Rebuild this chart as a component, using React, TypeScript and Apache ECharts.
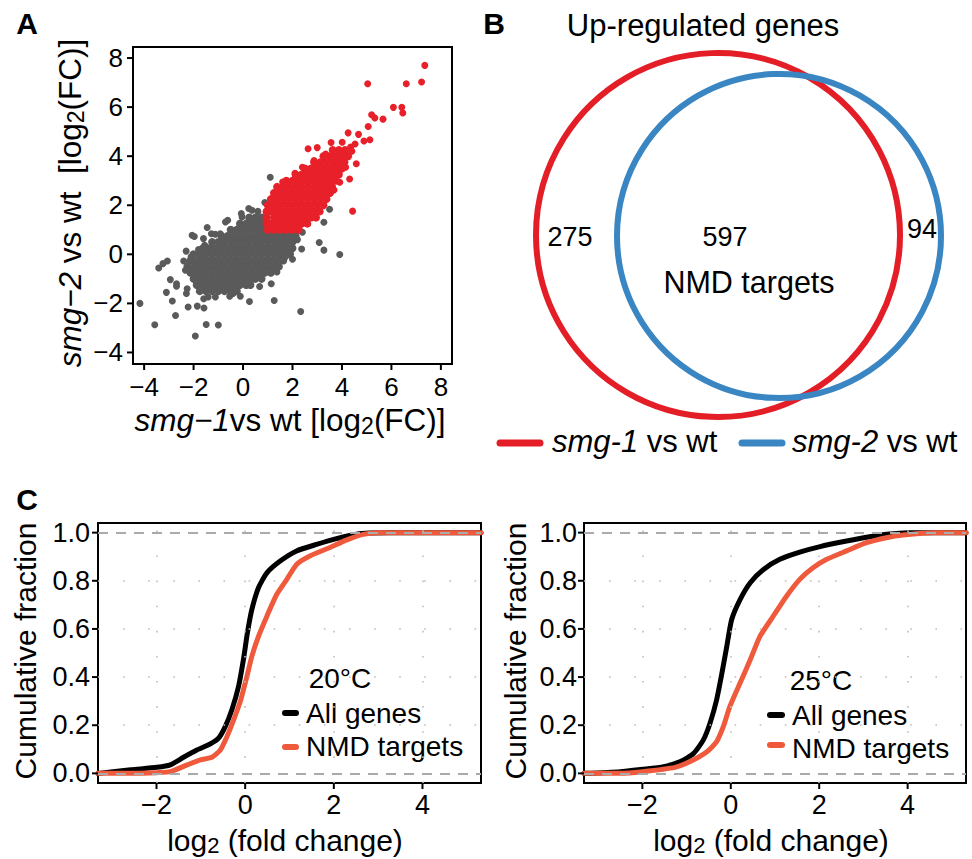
import React, { useEffect, useRef } from 'react';
import * as echarts from 'echarts';

const FONT = '"Liberation Sans", Arial, Helvetica, sans-serif';

// ---------- Panel A: scatter ----------
const scatterXTicks = [-4, -2, 0, 2, 4, 6, 8];
const scatterYTicks = [-4, -2, 0, 2, 4, 6, 8];

// dense grey cloud, rows of [y, x values]
const grayCoreRows: [number, number[]][] = [
  [1.5, [0.25, 0.5, 0.75]],
  [1.25, [-0.125, 0.125, 0.375, 0.625, 0.875]],
  [1.0, [-0.5, -0.25, 0, 0.25, 0.5, 0.75, 1.0, 1.25, 1.5, 1.75, 2.0, 2.25]],
  [0.75, [-0.875, -0.625, -0.375, -0.125, 0.125, 0.375, 0.625, 0.875, 1.125, 1.375, 1.625, 1.875, 2.125]],
  [0.5, [-1.25, -1, -0.75, -0.5, -0.25, 0, 0.25, 0.5, 0.75, 1, 1.25, 1.5, 1.75, 2.0]],
  [0.25, [-1.625, -1.375, -1.125, -0.875, -0.625, -0.375, -0.125, 0.125, 0.375, 0.625, 0.875, 1.125, 1.375, 1.625, 1.875, 2.0]],
  [0, [-2.0, -1.75, -1.5, -1.25, -1, -0.75, -0.5, -0.25, 0, 0.25, 0.5, 0.75, 1, 1.25, 1.5, 1.75, 1.9]],
  [-0.25, [-2.125, -1.875, -1.625, -1.375, -1.125, -0.875, -0.625, -0.375, -0.125, 0.125, 0.375, 0.625, 0.875, 1.125, 1.375, 1.625]],
  [-0.5, [-2.25, -2, -1.75, -1.5, -1.25, -1, -0.75, -0.5, -0.25, 0, 0.25, 0.5, 0.75, 1, 1.25, 1.45]],
  [-0.75, [-2.125, -1.875, -1.625, -1.375, -1.125, -0.875, -0.625, -0.375, -0.125, 0.125, 0.375, 0.625, 0.875, 1.125]],
  [-1.0, [-2.0, -1.75, -1.5, -1.25, -1, -0.75, -0.5, -0.25, 0, 0.25, 0.5, 0.75]],
  [-1.25, [-1.875, -1.625, -1.375, -1.125, -0.875, -0.625, -0.375, -0.125, 0.125, 0.3]],
  [-1.5, [-1.75, -1.5, -1.25, -1, -0.75, -0.5, -0.25]],
];

const grayOutliers: [number, number][] = [
  [-4.17, -2.0], [-3.57, -2.87], [-2.73, -2.49], [-1.93, -3.33], [-1.49, -2.86], [-1.0, -2.88],
  [-2.22, -2.15], [-1.85, -2.11], [-1.58, -2.19], [-2.86, -1.9], [-3.1, -1.55], [-3.41, -0.56],
  [-3.24, -0.38], [-3.06, -0.27], [-2.94, -1.03], [-2.69, -1.2], [-2.69, -1.3], [-2.4, -0.27],
  [-2.3, 0.13], [-2.33, -0.65], [-2.26, -1.4], [-2.29, -1.6], [-2.06, 0.78], [-1.97, 0.73],
  [-1.6, 0.64], [-1.55, 0.37], [-1.45, 1.09], [-1.28, 0.84], [-1.12, 0.82], [-0.92, 0.84],
  [-0.71, 1.32], [-0.62, 1.39], [-0.07, 1.66], [-0.04, 1.52], [0.23, 1.87], [0.36, 1.8],
  [0.88, 2.11], [-1.74, -1.47], [-1.59, -1.81], [-1.41, -1.74], [-1.12, -1.74], [-0.54, -1.71],
  [-0.11, -1.71], [0.26, -1.92], [0.67, -1.31], [0.3, -1.2], [1.26, -1.88], [1.14, -1.2],
  [1.37, -0.72], [1.44, -0.31], [1.71, -0.11], [2.33, -2.33], [3.91, -0.01], [3.27, 0.17],
  [3.08, 0.48], [2.37, 0.22], [3.27, 1.31], [3.5, 1.84], [1.1, 3.14], [2.2, 0.6], [2.4, 0.9],
  [2.0, -0.2], [-1.8, 0.2], [-2.1, -0.1], [0.6, 1.75], [-0.4, -1.6],
];

const redCoreRows: [number, number[]][] = [
  [1.0, [1.0, 1.25, 1.5, 1.75, 2.0, 2.25]],
  [1.25, [0.95, 1.125, 1.375, 1.625, 1.875, 2.125, 2.375, 2.6]],
  [1.5, [0.95, 1.25, 1.5, 1.75, 2.0, 2.25, 2.5, 2.75, 2.95]],
  [1.75, [0.95, 1.125, 1.375, 1.625, 1.875, 2.125, 2.375, 2.625, 2.875, 3.1]],
  [2.0, [1.0, 1.25, 1.5, 1.75, 2.0, 2.25, 2.5, 2.75, 3.0, 3.25]],
  [2.25, [1.125, 1.375, 1.625, 1.875, 2.125, 2.375, 2.625, 2.875, 3.125, 3.375]],
  [2.5, [1.25, 1.5, 1.75, 2.0, 2.25, 2.5, 2.75, 3.0, 3.25, 3.5]],
  [2.75, [1.375, 1.625, 1.875, 2.125, 2.375, 2.625, 2.875, 3.125, 3.375, 3.6]],
  [3.0, [1.75, 2.0, 2.25, 2.5, 2.75, 3.0, 3.25, 3.5, 3.75]],
  [3.25, [2.125, 2.375, 2.625, 2.875, 3.125, 3.375, 3.625, 3.875]],
  [3.5, [2.5, 2.75, 3.0, 3.25, 3.5, 3.75, 4.0]],
  [3.75, [2.875, 3.125, 3.375, 3.625, 3.875, 4.1]],
  [4.0, [3.25, 3.5, 3.75, 4.0, 4.25]],
  [4.25, [3.625, 3.875, 4.125]],
];

const redOutliers: [number, number][] = [
  [7.35, 7.7], [7.22, 7.02], [6.6, 6.95], [5.04, 6.95], [6.08, 5.99], [6.42, 5.99], [6.46, 5.76],
  [5.2, 5.69], [5.33, 5.56], [5.66, 5.51], [5.06, 5.21], [4.25, 4.95], [4.67, 4.89], [4.89, 4.62],
  [5.13, 4.67], [4.53, 4.5], [3.56, 4.56], [2.63, 4.3], [4.01, 4.57], [4.35, 4.37], [4.58, 3.69],
  [4.31, 3.07], [4.43, 1.76], [3.91, 2.94], [3.68, 2.62], [3.54, 2.5], [2.87, 3.82], [2.4, 3.55],
  [1.66, 2.8], [3.88, 4.23], [4.21, 4.03], [4.15, 3.55], [3.75, 3.62], [3.34, 4.09], [1.6, 2.95],
  [2.1, 3.3], [3.0, 4.35], [4.4, 4.2],
];

// ---------- Panel B: Venn ----------
const vennSets = ['smg-1 vs wt', 'smg-2 vs wt'];
const vennColors = ['#e31e26', '#3a86c3'];
// [centre x, centre y, radius] in Venn layout units
const vennCircles: [number, number, number][] = [
  [238, 205, 182],
  [299, 204, 162],
];
const vennCounts = { smg1Only: 275, both: 597, smg2Only: 94 };

// ---------- Panel C: cumulative fractions ----------
const cdfXTicks = [-2, 0, 2, 4];
const cdfYTicks = [0, 0.2, 0.4, 0.6, 0.8, 1.0];
const allGenes20: [number, number][] = [
  [-3.32, 0.0], [-2.58, 0.015], [-1.99, 0.025], [-1.69, 0.035], [-1.39, 0.067], [-1.09, 0.097],
  [-0.79, 0.122], [-0.6, 0.146], [-0.45, 0.194], [-0.3, 0.264], [-0.15, 0.361], [-0.04, 0.472],
  [0.05, 0.583], [0.15, 0.68], [0.3, 0.771], [0.49, 0.833], [0.79, 0.882], [1.16, 0.924],
  [1.61, 0.951], [2.06, 0.975], [2.51, 0.993], [2.81, 0.998], [3.3, 1.0], [5.32, 1.0],
];
const nmd20: [number, number][] = [
  [-3.32, 0.0], [-2.58, 0.0], [-1.99, 0.003], [-1.69, 0.007], [-1.31, 0.035], [-1.01, 0.056],
  [-0.75, 0.067], [-0.56, 0.097], [-0.41, 0.153], [-0.26, 0.222], [-0.11, 0.299], [0.04, 0.403],
  [0.15, 0.486], [0.3, 0.569], [0.49, 0.653], [0.71, 0.743], [0.94, 0.806], [1.16, 0.868],
  [1.46, 0.903], [1.91, 0.938], [2.28, 0.969], [2.66, 0.993], [3.0, 1.0], [5.32, 1.0],
];
const allGenes25: [number, number][] = [
  [-3.32, 0.0], [-2.5, 0.007], [-2.0, 0.017], [-1.52, 0.028], [-1.14, 0.049], [-0.84, 0.083],
  [-0.62, 0.139], [-0.47, 0.208], [-0.32, 0.306], [-0.2, 0.417], [-0.09, 0.528], [0.02, 0.639],
  [0.21, 0.722], [0.44, 0.792], [0.74, 0.847], [1.11, 0.889], [1.56, 0.919], [2.02, 0.942],
  [2.62, 0.965], [3.14, 0.983], [3.52, 0.993], [4.0, 1.0], [5.32, 1.0],
];
const nmd25: [number, number][] = [
  [-3.32, 0.0], [-2.5, 0.0], [-2.0, 0.007], [-1.26, 0.025], [-0.92, 0.049], [-0.54, 0.09],
  [-0.32, 0.132], [-0.17, 0.194], [-0.02, 0.278], [0.21, 0.375], [0.44, 0.472], [0.66, 0.569],
  [0.96, 0.653], [1.26, 0.736], [1.56, 0.806], [1.86, 0.854], [2.17, 0.889], [2.62, 0.924],
  [3.07, 0.958], [3.52, 0.979], [3.9, 0.99], [4.6, 1.0], [5.32, 1.0],
];

const CDF_RED = '#ef5a3d';
const minus = (v: number) => String(v).replace('-', '\u2212');

const A_X = [-4.45, 8.45];
const A_Y = [-4.47, 8.45];
const C_X = [-3.32, 5.32];
const C_Y = [-0.04, 1.04];

function rowsToPoints(rows: [number, number[]][]) {
  return rows.flatMap(([y, xs]) => xs.map((x) => [x, y]));
}

function valueAxis(gridIndex: number, ext: number[], ticks: number[], fontSize: number, margin: number, fmt: (v: number) => string) {
  return {
    type: 'value', gridIndex, min: ext[0], max: ext[1],
    axisLine: { show: false, onZero: false },
    splitLine: { show: false },
    axisTick: { show: false },
    axisLabel: { show: true, customValues: ticks, margin, fontSize, color: '#000', fontFamily: FONT, formatter: fmt },
  };
}

function text(x: number, y: number, t: string, size: number, extra: any = {}) {
  return {
    type: 'text', x, y, rotation: extra.rotation || 0,
    style: {
      text: t, fontSize: size, fontFamily: FONT, fill: '#000',
      align: extra.align || 'center', verticalAlign: 'middle',
      fontWeight: extra.bold ? 'bold' : 'normal',
      rich: {
        i: { fontStyle: 'italic', fontSize: size, fontFamily: FONT, fill: '#000' },
        s: { fontSize: Math.round(size * 0.72), fontFamily: FONT, fill: '#000', padding: [Math.round(size * 0.35), 0, 0, 0] },
      },
    },
  };
}

function seg(x1: number, x2: number, y: number, color: string, w: number) {
  return { type: 'line', shape: { x1, y1: y, x2, y2: y }, style: { stroke: color, lineWidth: w, lineCap: 'round' } };
}

const dotted = { color: '#bdbdbd', width: 1.6, type: [1.6, 23.5] };
const dashed = { color: '#aaaaaa', width: 1.8, type: [10, 8] };
const refLines = {
  silent: true, symbol: ['none', 'none'], label: { show: false }, animation: false,
  data: [
    ...cdfXTicks.map((v) => ({ xAxis: v, lineStyle: dotted })),
    ...[0.2, 0.4, 0.6, 0.8].map((v) => ({ yAxis: v, lineStyle: dotted })),
    { yAxis: 0, lineStyle: dashed },
    { yAxis: 1, lineStyle: dashed },
  ],
};

function cdfSeries(idx: number, data: [number, number][], color: string, z: number, withRef: boolean) {
  return {
    type: 'line', xAxisIndex: idx, yAxisIndex: idx, data, showSymbol: false, symbol: 'none',
    smooth: 0.2, z,
    lineStyle: { color, width: 5, join: 'round', cap: 'round' },
    markLine: withRef ? refLines : undefined,
  };
}

const baseGraphics: any[] = [
  text(27, 23, 'A', 30, { bold: true }),
  text(494, 23, 'B', 30, { bold: true }),
  text(27, 499, 'C', 30, { bold: true }),
  text(70, 203, '{i|smg\u22122} vs wt  [log{s|2}(FC)]', 31.5, { rotation: Math.PI / 2 }),
  text(290, 420, '{i|smg\u22121}vs wt [log{s|2}(FC)]', 31.5),
  text(703, 25, 'Up-regulated genes', 31),
  text(570, 237, String(vennCounts.smg1Only), 27),
  text(725, 237, String(vennCounts.both), 27),
  text(749, 282, 'NMD targets', 30.5),
  text(922, 229, String(vennCounts.smg2Only), 27),
  seg(500, 540, 443, vennColors[0], 7),
  text(552, 441, '{i|' + vennSets[0].replace(' vs wt', '') + '} vs wt', 31, { align: 'left' }),
  seg(742, 782, 443, vennColors[1], 7),
  text(792, 441, '{i|' + vennSets[1].replace(' vs wt', '') + '} vs wt', 31, { align: 'left' }),
  text(25, 651, 'Cumulative fraction', 30, { rotation: Math.PI / 2 }),
  text(515, 651, 'Cumulative fraction', 30, { rotation: Math.PI / 2 }),
  text(285, 840, 'log{s|2} (fold change)', 30),
  text(771, 840, 'log{s|2} (fold change)', 30),
  text(340, 678, '20\u00b0C', 28),
  seg(285, 296, 713, '#000', 6),
  text(306, 713, 'All genes', 28, { align: 'left' }),
  seg(285, 296, 747, CDF_RED, 6),
  text(306, 746, 'NMD targets', 28, { align: 'left' }),
  text(821, 680, '25\u00b0C', 28),
  seg(770, 782, 715, '#000', 6),
  text(792, 715, 'All genes', 28, { align: 'left' }),
  seg(770, 782, 745, CDF_RED, 6),
  text(792, 748, 'NMD targets', 28, { align: 'left' }),
];

const option: any = {
  animation: false,
  backgroundColor: '#fff',
  grid: [
    { left: 133, top: 47, width: 319, height: 317, show: true, borderColor: '#000', borderWidth: 2, backgroundColor: 'transparent' },
    { left: 480, top: 40, width: 480, height: 400, show: false },
    { left: 98, top: 523, width: 383, height: 260, show: true, borderColor: '#000', borderWidth: 2, backgroundColor: 'transparent' },
    { left: 584, top: 523, width: 382, height: 260, show: true, borderColor: '#000', borderWidth: 2, backgroundColor: 'transparent' },
  ],
  xAxis: [
    valueAxis(0, A_X, scatterXTicks, 26, 10, minus),
    { type: 'value', gridIndex: 1, min: 0, max: 480, show: false },
    valueAxis(2, C_X, cdfXTicks, 27, 8, minus),
    valueAxis(3, C_X, cdfXTicks, 27, 8, minus),
  ],
  yAxis: [
    valueAxis(0, A_Y, scatterYTicks, 26, 10, minus),
    { type: 'value', gridIndex: 1, min: 0, max: 400, show: false },
    valueAxis(2, C_Y, cdfYTicks, 27, 8, (v: number) => v.toFixed(1)),
    valueAxis(3, C_Y, cdfYTicks, 27, 7, (v: number) => v.toFixed(1)),
  ],
  series: [
    { type: 'scatter', xAxisIndex: 0, yAxisIndex: 0, data: rowsToPoints(grayCoreRows), symbolSize: 8, itemStyle: { color: '#5a5a5a', opacity: 1 }, z: 2 },
    { type: 'scatter', xAxisIndex: 0, yAxisIndex: 0, data: grayOutliers, symbolSize: 7, itemStyle: { color: '#5a5a5a', opacity: 1 }, z: 2 },
    { type: 'scatter', xAxisIndex: 0, yAxisIndex: 0, data: rowsToPoints(redCoreRows), symbolSize: 8, itemStyle: { color: '#e8202a', opacity: 1 }, z: 3 },
    { type: 'scatter', xAxisIndex: 0, yAxisIndex: 0, data: redOutliers, symbolSize: 7, itemStyle: { color: '#e8202a', opacity: 1 }, z: 3 },
    {
      type: 'custom', xAxisIndex: 1, yAxisIndex: 1, data: vennCircles, clip: false,
      encode: { x: 0, y: 1 },
      renderItem: (params: any, api: any) => {
        const c = api.coord([api.value(0), api.value(1)]);
        const r = api.size([api.value(2), 0])[0];
        return {
          type: 'circle', shape: { cx: c[0], cy: c[1], r },
          style: { fill: 'none', stroke: vennColors[params.dataIndex], lineWidth: 6 },
        };
      },
    },
    cdfSeries(2, allGenes20, '#000', 2, true),
    cdfSeries(2, nmd20, CDF_RED, 3, false),
    cdfSeries(3, allGenes25, '#000', 2, true),
    cdfSeries(3, nmd25, CDF_RED, 3, false),
  ],
  graphic: baseGraphics,
};

// outward tick marks, positioned through each grid's own axis scales
const tickSpecs = [
  { grid: 0, xs: scatterXTicks, ys: scatterYTicks, xExt: A_X, yExt: A_Y },
  { grid: 2, xs: cdfXTicks, ys: cdfYTicks, xExt: C_X, yExt: C_Y },
  { grid: 3, xs: cdfXTicks, ys: cdfYTicks, xExt: C_X, yExt: C_Y },
];

function buildTicks(chart: any) {
  const out: any[] = [];
  tickSpecs.forEach((s) => {
    s.xs.forEach((v) => {
      const p = chart.convertToPixel({ gridIndex: s.grid }, [v, s.yExt[0]]);
      if (p) out.push({ type: 'line', z: 10, shape: { x1: p[0], y1: p[1], x2: p[0], y2: p[1] + 6 }, style: { stroke: '#000', lineWidth: 2 } });
    });
    s.ys.forEach((v) => {
      const p = chart.convertToPixel({ gridIndex: s.grid }, [s.xExt[0], v]);
      if (p) out.push({ type: 'line', z: 10, shape: { x1: p[0], y1: p[1], x2: p[0] - 6, y2: p[1] }, style: { stroke: '#000', lineWidth: 2 } });
    });
  });
  return out;
}

export default function App() {
  const ref = useRef<HTMLDivElement>(null);
  useEffect(() => {
    const chart = echarts.init(ref.current!, null, { renderer: 'svg' });
    chart.setOption(option);
    chart.setOption({ graphic: [...baseGraphics, ...buildTicks(chart)] });
    return () => chart.dispose();
  }, []);
  return <div ref={ref} style={{ position: 'absolute', left: 0, top: 0, width: 972, height: 859, background: '#fff' }} />;
}
